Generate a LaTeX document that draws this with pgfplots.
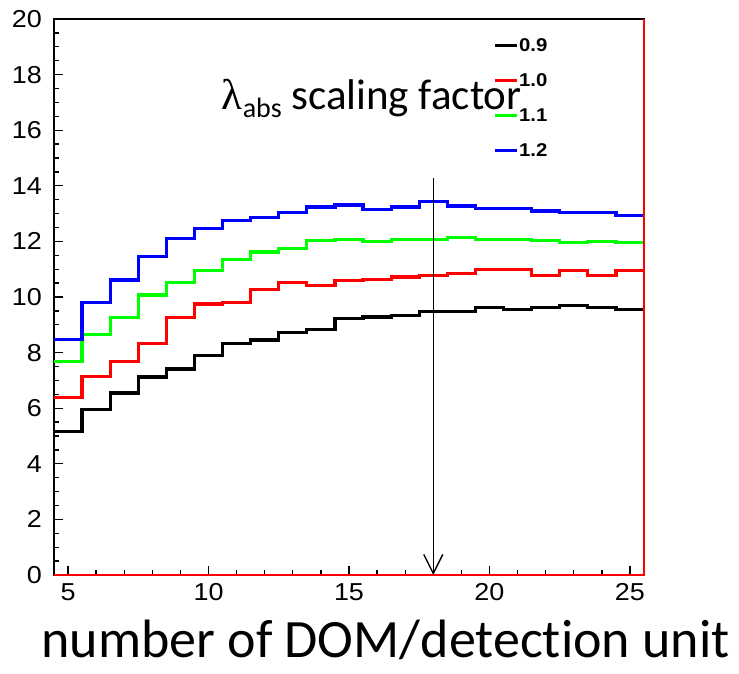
\documentclass[border=0pt]{standalone}
\usepackage{fontspec}
\setmainfont{Carlito}[Ligatures=NoCommon]
\newfontfamily\arialf{Liberation Sans}[FakeStretch=1.1]
\newfontfamily\serf{Liberation Serif}
\usepackage{pgfplots}
\pgfplotsset{compat=1.18}
\usetikzlibrary{arrows.meta}
\begin{document}
\begin{tikzpicture}
\begin{axis}[
  name=ax,
  scale only axis, width=590pt, height=556pt,
  xmin=4.5, xmax=25.5, ymin=0, ymax=20,
  clip=false,
  xtick={5,10,15,20,25}, minor x tick num=4,
  ytick={0,2,...,20}, minor y tick num=3,
  tick align=inside, xtick pos=bottom, ytick pos=left,
  major tick length=9pt, minor tick length=5pt,
  every tick/.style={black, line width=1.3pt},
  axis line style={black, line width=1.5pt},
  /pgf/number format/assume math mode=true,
  ticklabel style={font=\arialf\fontsize{24.5}{24.5}\selectfont},
  yticklabel style={inner sep=0pt, xshift=-12pt},
  xticklabel style={inner sep=0pt, yshift=-8pt},
  xlabel={number of DOM/detection unit},
  xlabel style={font=\fontsize{54}{54}\selectfont, at={(axis description cs:0.562,0)}, anchor=base, yshift=-82pt, inner sep=0pt},
  legend style={draw=none, fill=none, at={(axis description cs:0.744,0.964)}, anchor=north west, inner sep=0pt,
    font=\arialf\bfseries\fontsize{18.5}{18.5}\selectfont, row sep=23pt,
    nodes={inner sep=0pt, text height=12pt, text depth=0pt},
    /tikz/every odd column/.style={column sep=1pt}},
  legend image code/.code={\draw[#1, line width=3pt] (0pt,0pt) -- (22pt,0pt);},
  legend cell align=left,
]
\addplot[black, line width=3.2pt, const plot] table {
x y
4.5 5.17
5.5 5.94
6.5 6.55
7.5 7.12
8.5 7.41
9.5 7.89
10.5 8.33
11.5 8.45
12.5 8.72
13.5 8.84
14.5 9.23
15.5 9.28
16.5 9.34
17.5 9.49
18.5 9.49
19.5 9.62
20.5 9.56
21.5 9.62
22.5 9.68
23.5 9.62
24.5 9.56
25.5 9.56
};
\addlegendentry{0.9}
\addplot[red, line width=3.2pt, const plot] table {
x y
4.5 6.39
5.5 7.14
6.5 7.68
7.5 8.33
8.5 9.27
9.5 9.75
10.5 9.81
11.5 10.28
12.5 10.52
13.5 10.40
14.5 10.60
15.5 10.64
16.5 10.72
17.5 10.78
18.5 10.84
19.5 10.98
20.5 10.98
21.5 10.78
22.5 10.94
23.5 10.76
24.5 10.94
25.5 10.94
};
\addlegendentry{1.0}
\addplot[green, line width=3.2pt, const plot] table {
x y
4.5 7.69
5.5 8.66
6.5 9.27
7.5 10.07
8.5 10.52
9.5 10.96
10.5 11.35
11.5 11.62
12.5 11.74
13.5 12.03
14.5 12.07
15.5 12.01
16.5 12.07
17.5 12.07
18.5 12.14
19.5 12.07
20.5 12.07
21.5 12.02
22.5 11.95
23.5 12.01
24.5 11.95
25.5 11.95
};
\addlegendentry{1.1}
\addplot[blue, line width=3.2pt, const plot] table {
x y
4.5 8.46
5.5 9.80
6.5 10.61
7.5 11.45
8.5 12.09
9.5 12.47
10.5 12.74
11.5 12.85
12.5 13.05
13.5 13.24
14.5 13.31
15.5 13.16
16.5 13.24
17.5 13.44
18.5 13.27
19.5 13.17
20.5 13.17
21.5 13.09
22.5 13.04
23.5 13.04
24.5 12.93
25.5 12.93
};
\addlegendentry{1.2}
\addplot[red, line width=2.5pt, forget plot] coordinates {(4.5,0) (25.5,0) (25.5,20)};
\addplot[black, line width=1.4pt, -{Straight Barb[length=19pt, width=19pt, line width=1.4pt]}, forget plot] coordinates {(18,14.28) (18,0)};
\node[anchor=base west, inner sep=0pt] at (axis cs:10.47,16.73)
  {\fontsize{43}{43}\selectfont{\serf λ}\raisebox{-8pt}{\fontsize{28}{28}\selectfont abs} scaling factor};
\end{axis}
\pgfresetboundingbox
\path ([shift={(-54pt,-98pt)}]ax.south west) rectangle ([shift={(95pt,19pt)}]ax.north east);
\end{tikzpicture}
\end{document}
